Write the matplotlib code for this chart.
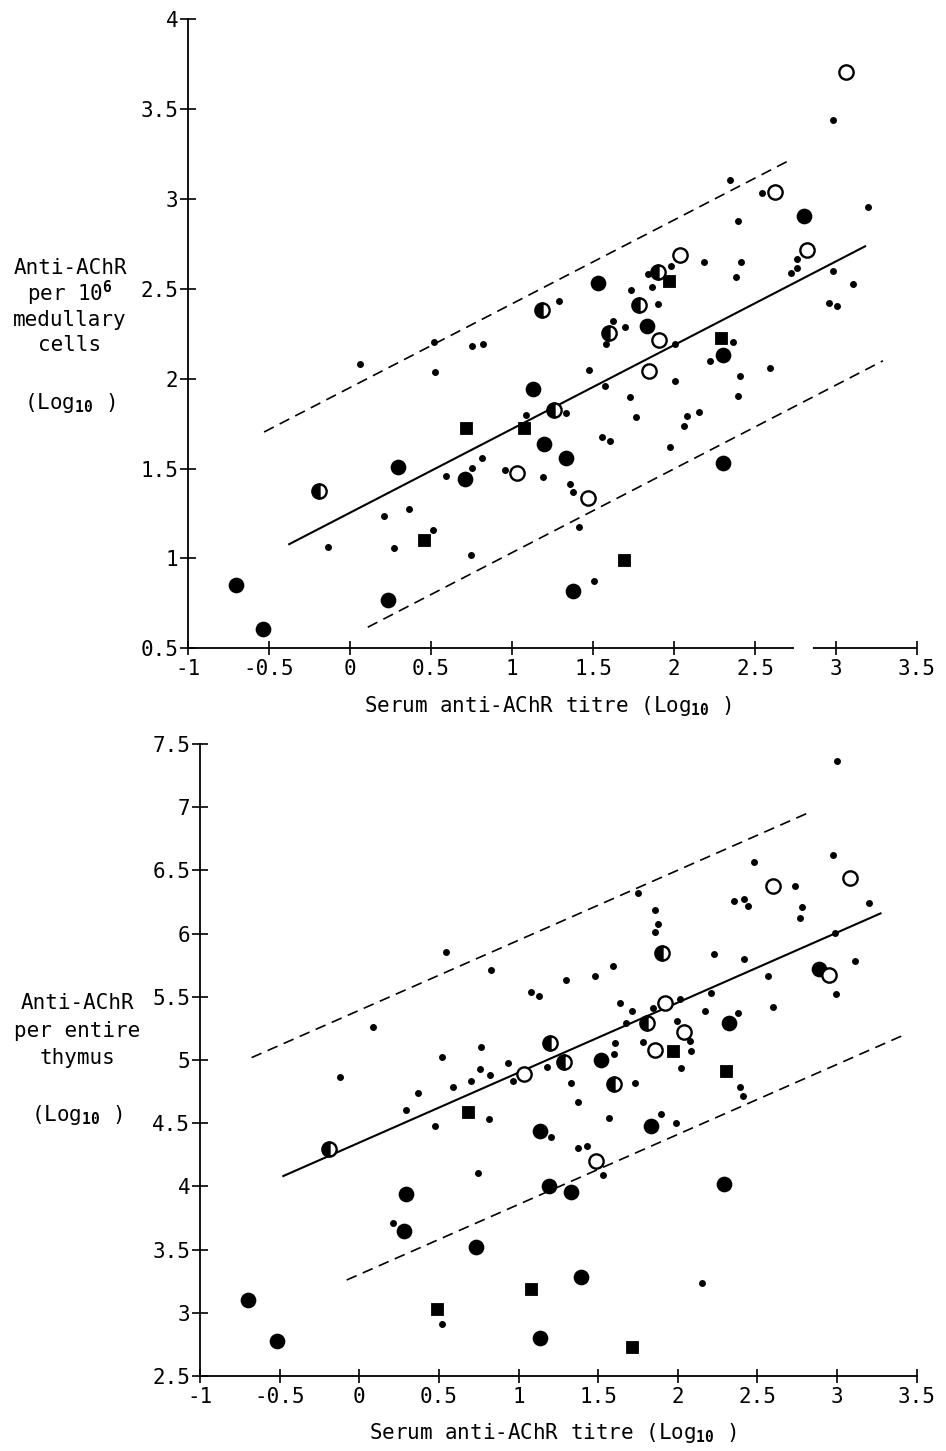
import matplotlib
matplotlib.use("Agg")
import matplotlib.pyplot as plt
import numpy as np

plt.rcParams['font.family'] = ['DejaVu Sans Mono']
plt.rcParams['mathtext.fontset'] = 'custom'
plt.rcParams['mathtext.rm'] = 'DejaVu Sans Mono'
plt.rcParams['mathtext.bf'] = 'DejaVu Sans Mono:bold'

# ---- upper panel: anti-AChR per 10^6 medullary cells ----
top_dot_x = [0.064, 0.519, 0.751, 0.823, 0.527, 0.210, 0.366, 0.591, 0.755, -0.136,
             0.272, 0.510, 0.747, 0.813, 1.578, 1.477, 1.574, 1.728, 1.765, 2.008,
             1.086, 1.333, 1.558, 1.605, 1.977, 2.062, 2.082, 2.154, 2.224, 2.407,
             2.397, 2.593, 2.366, 0.957, 1.193, 1.358, 1.375, 1.414, 1.508, 2.006,
             2.984, 2.346, 2.543, 2.397, 3.196, 2.187, 2.412, 2.383, 1.981, 2.761,
             2.761, 2.720, 2.980, 3.103, 2.959, 3.004, 1.838, 1.862, 1.737, 1.901,
             1.292, 1.623, 1.698]
top_dot_y = [2.083, 2.202, 2.183, 2.194, 2.037, 1.237, 1.274, 1.459, 1.502, 1.062,
             1.060, 1.157, 1.018, 1.558, 2.194, 2.046, 1.957, 1.898, 1.784, 1.988,
             1.797, 1.808, 1.675, 1.654, 1.621, 1.739, 1.793, 1.817, 2.100, 2.014,
             1.901, 2.059, 2.202, 1.493, 1.450, 1.415, 1.370, 1.174, 0.876, 2.194,
             3.438, 3.102, 3.033, 2.875, 2.952, 2.647, 2.647, 2.566, 2.625, 2.666,
             2.616, 2.588, 2.601, 2.528, 2.421, 2.402, 2.584, 2.510, 2.495, 2.415,
             2.430, 2.322, 2.287]

top_big_x = [-0.704, -0.535, 0.236, 0.298, 0.710, 1.132, 1.199, 1.333, 1.375, 2.304,
             2.304, 1.529, 1.831, 2.802]
top_big_y = [0.852, 0.607, 0.771, 1.511, 1.441, 1.942, 1.636, 1.556, 0.817, 1.530,
             2.129, 2.532, 2.291, 2.907]

top_sq_x = [0.714, 0.457, 1.076, 1.693, 1.971, 2.290]
top_sq_y = [1.728, 1.101, 1.725, 0.992, 2.545, 2.226]

top_open_x = [3.062, 2.623, 2.819, 2.037, 1.909, 1.844, 1.033, 1.469]
top_open_y = [3.703, 3.039, 2.714, 2.686, 2.217, 2.044, 1.474, 1.335]

top_half_x = [-0.190, 1.183, 1.786, 1.903, 1.601, 1.261]
top_half_y = [1.376, 2.384, 2.411, 2.594, 2.254, 1.823]

# regression line and limits: slope, intercepts, x extent
top_slope = 0.466
top_fit = {'mid': (1.254, -0.375, 3.18), 'hi': (1.950, -0.53, 2.716), 'lo': (0.566, 0.11, 3.29)}
top_break = (2.74, 2.86)

# ---- lower panel: anti-AChR per entire thymus ----
bot_dot_x = [2.997, 2.972, 2.478, 2.733, 2.354, 2.413, 2.438, 2.777, 2.765, 3.200,
             2.990, 3.110, 2.994, 2.566, 2.599, 2.415, 2.229, 2.206, 2.170, 2.379,
             1.858, 1.875, 1.854, 1.752, 0.825, 1.296, 1.478, 1.593, 1.078, 1.126,
             1.637, 1.710, 1.842, 2.015, 1.672, 1.992, 2.076, 2.080, 2.019, 1.779,
             1.607, 1.599, 1.180, 1.327, 1.731, 0.932, 0.764, 0.758, 0.821, 0.699,
             0.967, 2.390, 2.407, 1.375, 1.569, 1.894, 1.988, 0.814, 1.203, 1.375,
             1.431, 1.528, 0.747, 2.149, 0.371, 0.291, 0.477, 0.214, 0.517, 0.542,
             0.084, 0.521, -0.121, 0.590]
bot_dot_y = [7.366, 6.624, 6.569, 6.377, 6.258, 6.271, 6.216, 6.213, 6.126, 6.242,
             6.007, 5.786, 5.520, 5.665, 5.422, 5.799, 5.836, 5.528, 5.390, 5.369,
             6.184, 6.076, 6.015, 6.319, 5.712, 5.633, 5.665, 5.746, 5.536, 5.509,
             5.453, 5.390, 5.414, 5.485, 5.295, 5.309, 5.148, 5.071, 4.939, 5.142,
             5.132, 5.045, 4.942, 4.816, 4.816, 4.974, 5.105, 4.926, 4.881, 4.836,
             4.836, 4.789, 4.718, 4.665, 4.539, 4.573, 4.504, 4.531, 4.389, 4.301,
             4.322, 4.090, 4.104, 3.233, 4.737, 4.604, 4.480, 3.708, 2.911, 5.852,
             5.263, 5.026, 4.868, 4.784]

bot_big_x = [-0.697, -0.519, 0.293, 0.283, 0.731, 1.134, 1.193, 1.327, 1.392, 1.134,
             1.835, 2.289, 1.517, 2.323, 2.888]
bot_big_y = [3.101, 2.779, 3.942, 3.647, 3.523, 4.441, 4.006, 3.958, 3.286, 2.798,
             4.480, 4.017, 5.000, 5.295, 5.717]

bot_sq_x = [0.486, 0.684, 1.076, 1.710, 1.967, 2.300]
bot_sq_y = [3.030, 4.586, 3.186, 2.727, 5.069, 4.915]

bot_open_x = [3.080, 2.599, 2.950, 1.919, 2.040, 1.856, 1.034, 1.486]
bot_open_y = [6.437, 6.377, 5.675, 5.453, 5.224, 5.079, 4.887, 4.201]

bot_half_x = [-0.190, 1.898, 1.197, 1.285, 1.804, 1.599]
bot_half_y = [4.298, 5.844, 5.137, 4.987, 5.295, 4.810]

bot_slope = 0.554
bot_fit = {'mid': (4.346, -0.477, 3.273), 'hi': (5.393, -0.676, 2.825), 'lo': (3.303, -0.079, 3.436)}

x_ticks = [-1, -0.5, 0, 0.5, 1, 1.5, 2, 2.5, 3, 3.5]
top_yticks = [0.5, 1, 1.5, 2, 2.5, 3, 3.5, 4]
bot_yticks = [2.5, 3, 3.5, 4, 4.5, 5, 5.5, 6, 6.5, 7, 7.5]


def fmt(v):
    return '%g' % v


def draw_panel(ax, dots, bigs, squares, opens, halves, slope, fit, yticks):
    ax.plot(*bigs, 'o', color='black', ms=11.3, mew=0, zorder=3)
    ax.plot(*squares, 's', color='black', ms=9.2, mew=0.6, zorder=3)
    ax.plot(*opens, 'o', mfc='white', mec='black', ms=10.3, mew=1.7, zorder=4)
    ax.plot(*halves, 'o', mfc='black', mfcalt='white', fillstyle='left',
            mec='black', ms=10.3, mew=1.7, zorder=4)
    ax.plot(*dots, 'o', color='black', ms=5.0, mew=0, zorder=5)

    for key, (b, x0, x1) in fit.items():
        xs = np.array([x0, x1])
        if key == 'mid':
            ax.plot(xs, b + slope * xs, color='black', lw=1.5, zorder=2)
        else:
            ax.plot(xs, b + slope * xs, color='black', lw=1.2,
                    linestyle=(0, (6.5, 4)), zorder=2)

    ax.set_xlim(-1, 3.5)
    ax.set_ylim(yticks[0], yticks[-1])
    ax.set_xticks(x_ticks)
    ax.set_xticklabels([fmt(v) for v in x_ticks])
    ax.set_yticks(yticks)
    ax.set_yticklabels([fmt(v) for v in yticks])
    for s in ['top', 'right']:
        ax.spines[s].set_visible(False)
    for s in ['left', 'bottom']:
        ax.spines[s].set_linewidth(1.3)
    ax.tick_params(axis='x', direction='inout', length=10, width=1.2,
                   labelsize=15, pad=3)
    ax.tick_params(axis='y', direction='inout', length=12, width=1.2,
                   labelsize=15, pad=1)


fig = plt.figure(figsize=(9.46, 14.51), dpi=100)

ax1 = fig.add_axes([0.1987, 0.5532, 0.7706, 0.4337])
draw_panel(ax1, (top_dot_x, top_dot_y), (top_big_x, top_big_y),
           (top_sq_x, top_sq_y), (top_open_x, top_open_y),
           (top_half_x, top_half_y), top_slope, top_fit, top_yticks)

# broken x axis on the upper panel
ax1.spines['bottom'].set_visible(False)
trans = ax1.get_xaxis_transform()
for x0, x1 in [(-1, top_break[0]), (top_break[1], 3.5)]:
    ax1.plot([x0, x1], [0, 0], color='black', lw=1.3, transform=trans,
             clip_on=False, solid_capstyle='butt')

ax2 = fig.add_axes([0.2114, 0.0517, 0.7576, 0.4356])
draw_panel(ax2, (bot_dot_x, bot_dot_y), (bot_big_x, bot_big_y),
           (bot_sq_x, bot_sq_y), (bot_open_x, bot_open_y),
           (bot_half_x, bot_half_y), bot_slope, bot_fit, bot_yticks)


def ftext(px, py, s, **kw):
    fig.text(px / 946, 1 - py / 1451, s, ha='center', va='center',
             fontsize=15, **kw)


# y-axis titles
ftext(70, 268, 'Anti-AChR')
ftext(70, 293, r'per 10$^{\mathbf{6}}$')
ftext(70, 320, 'medullary')
ftext(70, 345, 'cells')
ftext(70, 403, r'(Log$_{\mathbf{10}}$ )')

ftext(77, 1003, 'Anti-AChR')
ftext(77, 1031, 'per entire')
ftext(77, 1058, 'thymus')
ftext(77, 1115, r'(Log$_{\mathbf{10}}$ )')

# x-axis titles
xlab = r'Serum anti-AChR titre (Log$_{\mathbf{10}}$ )'
ftext(548, 706, xlab)
ftext(553, 1433, xlab)

fig.savefig('out.png', dpi=100)
